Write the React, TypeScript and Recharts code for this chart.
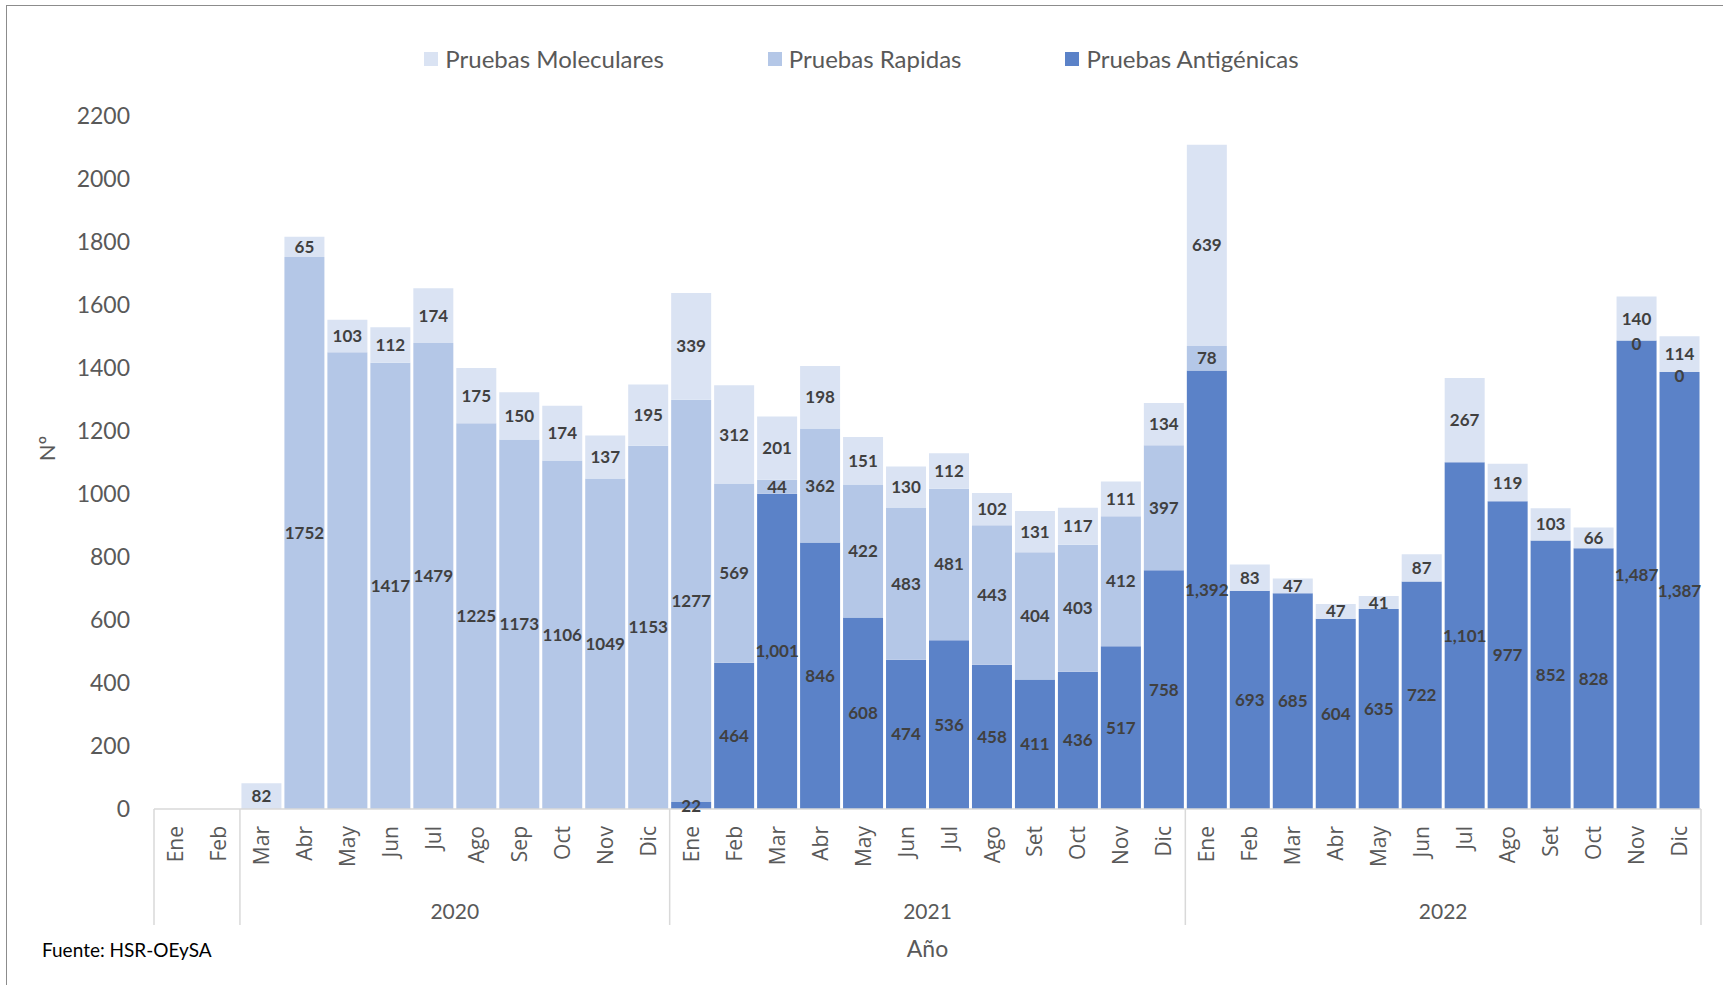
import React from 'react';
import { BarChart, Bar, XAxis, YAxis, LabelList } from 'recharts';

const years = ['2020', '2021', '2022'];
const months2020 = ['Ene', 'Feb', 'Mar', 'Abr', 'May', 'Jun', 'Jul', 'Ago', 'Sep', 'Oct', 'Nov', 'Dic'];
const months2021 = ['Ene', 'Feb', 'Mar', 'Abr', 'May', 'Jun', 'Jul', 'Ago', 'Set', 'Oct', 'Nov', 'Dic'];
const months2022 = ['Ene', 'Feb', 'Mar', 'Abr', 'May', 'Jun', 'Jul', 'Ago', 'Set', 'Oct', 'Nov', 'Dic'];
const months = [...months2020, ...months2021, ...months2022];

const antigenicas: (number | null)[] = [
  null, null, null, null, null, null, null, null, null, null, null, null,
  22, 464, 1001, 846, 608, 474, 536, 458, 411, 436, 517, 758,
  1392, 693, 685, 604, 635, 722, 1101, 977, 852, 828, 1487, 1387,
];
const rapidas: (number | null)[] = [
  null, null, null, 1752, 1450, 1417, 1479, 1225, 1173, 1106, 1049, 1153,
  1277, 569, 44, 362, 422, 483, 481, 443, 404, 403, 412, 397,
  78, null, null, null, null, null, null, null, null, null, 0, 0,
];
const moleculares: (number | null)[] = [
  null, null, 82, 65, 103, 112, 174, 175, 150, 174, 137, 195,
  339, 312, 201, 198, 151, 130, 112, 102, 131, 117, 111, 134,
  639, 83, 47, 47, 41, 87, 267, 119, 103, 66, 140, 114,
];
// index of months whose "Rapidas" value has no data label in the source
const rapidasUnlabeled = [4];

// category groups of the second axis level (first two months have no year label)
const yearGroups = [
  { label: '', from: 0, to: 2 },
  { label: years[0], from: 2, to: 12 },
  { label: years[1], from: 12, to: 24 },
  { label: years[2], from: 24, to: 36 },
];
const yTicks = [0, 200, 400, 600, 800, 1000, 1200, 1400, 1600, 1800, 2000, 2200];

const data = months.map((m, i) => ({
  key: `${years[Math.floor(i / 12)]}-${m}`,
  month: m,
  antigenicas: antigenicas[i],
  rapidas: rapidas[i],
  moleculares: moleculares[i],
  rapidasLabel: rapidasUnlabeled.includes(i) || rapidas[i] === 0 ? null : rapidas[i],
  rapidasZeroLabel: rapidas[i] === 0 ? String(rapidas[i]) : null,
}));

const C_MOL = '#DAE3F3';
const C_RAP = '#B4C7E7';
const C_ANT = '#5B82C8';
const TXT = '#595959';
const LBL = '#404040';
const SEP = '#D9D9D9';

const MonthTick = (props: any) => {
  const { x, y, payload, width, visibleTicksCount } = props;
  const i = payload.index;
  const n = visibleTicksCount || months.length;
  const bw = width / n;
  const ty = y + 17;
  const parts: React.ReactNode[] = [];
  parts.push(
    <text
      key="m"
      x={x}
      y={ty}
      transform={`rotate(-90, ${x}, ${ty})`}
      textAnchor="end"
      dy="0.36em"
      fontFamily="'Open Sans', sans-serif"
      fontSize={21}
      fill={TXT}
    >
      {months[i] ?? payload.value}
    </text>
  );
  yearGroups.forEach((g, gi) => {
    if (g.from === i) {
      parts.push(<line key={`s${gi}`} x1={x - bw / 2} x2={x - bw / 2} y1={y} y2={y + 116} stroke={SEP} strokeWidth={1.5} />);
    }
    if (g.to - 1 === i && gi === yearGroups.length - 1) {
      parts.push(<line key={`e${gi}`} x1={x + bw / 2} x2={x + bw / 2} y1={y} y2={y + 116} stroke={SEP} strokeWidth={1.5} />);
    }
    const c = (g.from + g.to) / 2;
    if (g.label && Math.floor(c) === i) {
      const cx = x + (c - i - 0.5) * bw;
      parts.push(
        <text key={`y${gi}`} x={cx} y={y + 101} textAnchor="middle" dominantBaseline="central" fontFamily="Lato, sans-serif" fontSize={21} fill={TXT}>
          {g.label}
        </text>
      );
    }
  });
  return <g>{parts}</g>;
};

const labelStyle = { fontFamily: 'Lato, sans-serif', fontSize: 17, fontWeight: 700, fill: LBL } as const;

// label of a zero-height "Rapidas" segment, drawn at the base of the segment above it
const ZeroLabel = (props: any) => {
  const { x, y, width, height, value } = props;
  if (value == null) return null;
  return (
    <text x={x + width / 2} y={y + height + 3} textAnchor="middle" dominantBaseline="central" {...labelStyle}>
      {value}
    </text>
  );
};

const YTitle = (props: any) => {
  const vb = props.viewBox || { x: 0, y: 0, width: 0, height: 0 };
  const cx = vb.x + 26;
  const cy = vb.y + vb.height / 2 - 14;
  return (
    <text x={cx} y={cy} transform={`rotate(-90, ${cx}, ${cy})`} textAnchor="middle" dominantBaseline="central" fontFamily="Lato, sans-serif" fontSize={22} fill={TXT}>
      Nº
    </text>
  );
};

const legendItems = [
  { name: 'Pruebas Moleculares', color: C_MOL },
  { name: 'Pruebas Rapidas', color: C_RAP },
  { name: 'Pruebas Antigénicas', color: C_ANT },
];

export default function App() {
  return (
    <div style={{ position: 'absolute', left: 0, top: 0, width: 1723, height: 985, overflow: 'hidden', background: '#fff' }}>
      <div style={{ position: 'absolute', left: 6, top: 5, width: 1740, height: 1000, borderLeft: '1.5px solid #8C8C8C', borderTop: '1.5px solid #8C8C8C' }} />
      <div style={{ position: 'absolute', left: 0, top: 44, width: 1723, display: 'flex', justifyContent: 'center', gap: 104, fontFamily: 'Lato, sans-serif', fontSize: 24, color: TXT, lineHeight: '30px' }}>
        {legendItems.map((it) => (
          <div key={it.name} style={{ display: 'flex', alignItems: 'center' }}>
            <span style={{ display: 'inline-block', width: 14, height: 14, background: it.color, marginRight: 7 }} />
            <span>{it.name}</span>
          </div>
        ))}
      </div>
      <div style={{ position: 'absolute', left: 0, top: 0 }}>
        <BarChart
          width={1723}
          height={985}
          data={data}
          margin={{ top: 116, right: 22, bottom: 56, left: 20 }}
          barCategoryGap={1.5}
        >
          <YAxis
            domain={[0, 2200]}
            ticks={yTicks}
            width={134}
            axisLine={false}
            tickLine={false}
            tickSize={0}
            tickMargin={24}
            tick={{ fontFamily: 'Lato, sans-serif', fontSize: 23, fill: TXT }}
            label={{ content: YTitle }}
          />
          <XAxis
            dataKey="key"
            interval={0}
            height={120}
            axisLine={{ stroke: SEP, strokeWidth: 1.5 }}
            tickLine={false}
            tickSize={0}
            tickMargin={0}
            tick={<MonthTick />}
            label={{ value: 'Año', position: 'bottom', offset: 12, style: { fontFamily: 'Lato, sans-serif', fontSize: 23, fill: TXT } }}
          />
          <Bar dataKey="antigenicas" stackId="s" fill={C_ANT} isAnimationActive={false}>
            <LabelList
              dataKey="antigenicas"
              position="center"
              formatter={(v: any) => (v == null ? '' : Number(v).toLocaleString('en-US'))}
              style={labelStyle}
            />
          </Bar>
          <Bar dataKey="rapidas" stackId="s" fill={C_RAP} isAnimationActive={false}>
            <LabelList dataKey="rapidasLabel" position="center" style={labelStyle} />
          </Bar>
          <Bar dataKey="moleculares" stackId="s" fill={C_MOL} isAnimationActive={false}>
            <LabelList dataKey="moleculares" position="center" style={labelStyle} />
            <LabelList dataKey="rapidasZeroLabel" content={<ZeroLabel />} />
          </Bar>
        </BarChart>
      </div>
      <div style={{ position: 'absolute', left: 42, top: 937, fontFamily: 'Lato, sans-serif', fontSize: 19, color: '#000', lineHeight: '26px' }}>
        Fuente: HSR-OEySA
      </div>
    </div>
  );
}
